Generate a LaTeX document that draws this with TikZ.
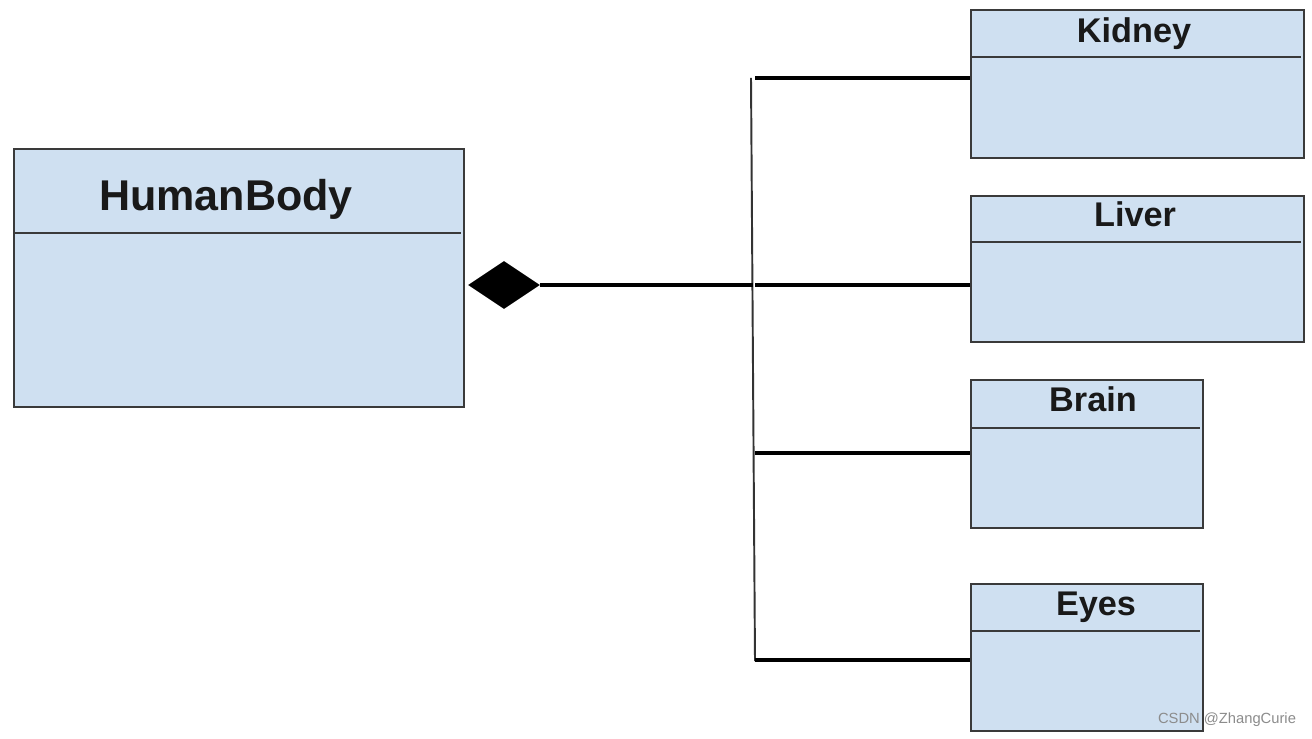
\documentclass[tikz,border=0pt]{standalone}
\usepackage{fontspec}
\setmainfont{Liberation Sans}
\usetikzlibrary{shapes.geometric}
\definecolor{classfill}{HTML}{CFE0F1}
\definecolor{classline}{HTML}{3A3A3A}
\definecolor{markgray}{HTML}{8C8C8C}
\tikzset{
  classbox/.style={rectangle,draw=classline,fill=classfill,line width=1.1pt,
    anchor=north west,inner sep=0pt},
  divider/.style={draw=classline,line width=0.8pt},
  title/.style={anchor=base,inner sep=0pt,text=black!90,
    font=\bfseries\fontsize{19.5}{22}\selectfont},
  big title/.style={title,font=\bfseries\fontsize{24.5}{28}\selectfont},
  link/.style={draw=black,line width=2.2pt},
  trunk/.style={draw=black!80,line width=1.1pt},
  composite/.style={diamond,fill=black,inner sep=0pt,
    minimum width=1.44cm,minimum height=0.96cm}
}

\begin{document}
\begin{tikzpicture}[x=0.02cm,y=-0.02cm]
  \useasboundingbox[fill=white] (0,0) rectangle (1312,739);
  % class boxes
  \node[classbox,minimum width=9cm,minimum height=5.16cm] (body) at (13,148) {};
  \node[classbox,minimum width=6.66cm,minimum height=2.96cm] (kidney) at (970,9) {};
  \node[classbox,minimum width=6.66cm,minimum height=2.92cm] (liver) at (970,195) {};
  \node[classbox,minimum width=4.64cm,minimum height=2.96cm] (brain) at (970,379) {};
  \node[classbox,minimum width=4.64cm,minimum height=2.94cm] (eyes) at (970,583) {};
  \foreach \b/\d in {body/85,kidney/48,liver/47,brain/49,eyes/48}
    \draw[divider] ([yshift=-\d*0.02cm]\b.north west) -- ([xshift=-0.08cm,yshift=-\d*0.02cm]\b.north east);
  \node[big title] (bodyname) at (226,211) {HumanBody};
  \node[title] (kidneyname) at (1134,43) {Kidney};
  \node[title] (livername) at (1135,227) {Liver};
  \node[title] (brainname) at (1093,412) {Brain};
  \node[title] (eyesname) at (1096,616) {Eyes};
  % composition
  \node[composite] (whole) at (504,285) {};
  \coordinate (hub) at (753,285);
  \coordinate (top) at (751,78);
  \coordinate (bottom) at (755,661);
  \draw[trunk] (top) -- (bottom);
  \draw[link] (whole.east) -- (hub);
  \foreach \p/\y in {kidney/78,liver/285,brain/453,eyes/660} {
    \coordinate (j\p) at (755,\y);
    \draw[link] (j\p) -- (j\p -| \p.west);
  }
  \node[text=markgray,font=\fontsize{8.4}{9}\selectfont] (mark) at (1227,720) {CSDN @ZhangCurie};
\end{tikzpicture}
\end{document}
